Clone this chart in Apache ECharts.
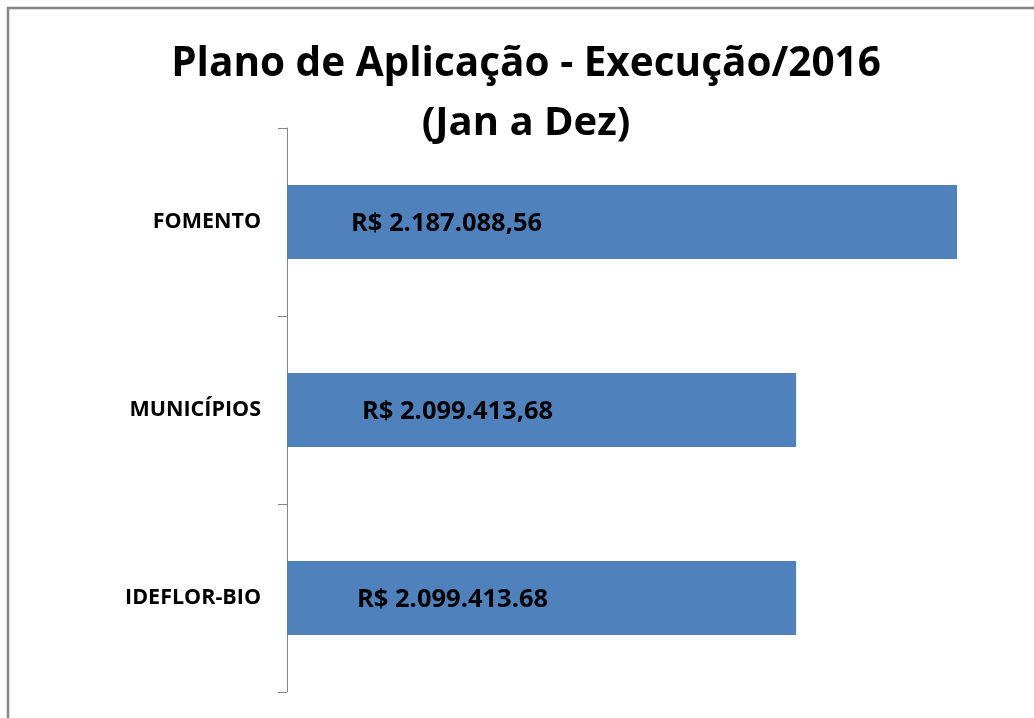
<!DOCTYPE html>
<html><head><meta charset="utf-8">
<script src="https://cdn.jsdelivr.net/npm/echarts@6/dist/echarts.min.js"></script>
<style>html,body{margin:0;padding:0;background:#fff}#c{width:1034px;height:718px}</style>
</head><body><div id="c"></div>
<script>
const categories = ['FOMENTO', 'MUNICÍPIOS', 'IDEFLOR-BIO'];
const values = [2187088.56, 2099413.68, 2099413.68];
const valueLabels = ['R$ 2.187.088,56', 'R$ 2.099.413,68', 'R$ 2.099.413.68'];
const titleLines = ['Plano de Aplicação - Execução/2016', '(Jan a Dez)'];
const labelShift = [64, 75, 70];

const FONT = '"Open Sans"';
const chart = echarts.init(document.getElementById('c'), null, {renderer: 'canvas'});
const option = {
  animation: false,
  backgroundColor: '#ffffff',
  grid: {left: 287, right: 77, top: 128, bottom: 26, containLabel: false},
  xAxis: {type: 'value', min: 1822000, max: 'dataMax', show: false, splitLine: {show: false}},
  yAxis: {
    type: 'category', data: categories, inverse: true,
    axisLine: {show: true, onZero: false, lineStyle: {color: '#868686', width: 1}},
    axisTick: {show: true, length: 9, lineStyle: {color: '#868686', width: 1}},
    axisLabel: {margin: 26, color: '#000', fontFamily: FONT, fontWeight: 'bold', fontSize: 21.5},
    splitLine: {show: false}
  },
  series: [{
    type: 'bar', barWidth: 74, itemStyle: {color: '#4F81BD'},
    label: {show: true, color: '#000', fontFamily: FONT, fontWeight: 'bold', fontSize: 25.5},
    data: values.map((v, i) => ({
      value: v,
      label: {position: 'insideLeft', distance: labelShift[i], formatter: valueLabels[i], offset: [0, 2]}
    }))
  }],
  graphic: [
    {type: 'rect', z: -10, silent: true, shape: {x: 8, y: 8, width: 1100, height: 800},
     style: {fill: 'none', stroke: '#868686', lineWidth: 2.5}},
    {type: 'text', x: 526, y: 64, style: {text: titleLines[0], fontFamily: FONT, fontWeight: 'bold', fontSize: 40.5, fill: '#000', align: 'center', verticalAlign: 'middle'}},
    {type: 'text', x: 526, y: 124, style: {text: titleLines[1], fontFamily: FONT, fontWeight: 'bold', fontSize: 40, fill: '#000', align: 'center', verticalAlign: 'middle'}}
  ]
};
chart.setOption(option);
</script></body></html>
